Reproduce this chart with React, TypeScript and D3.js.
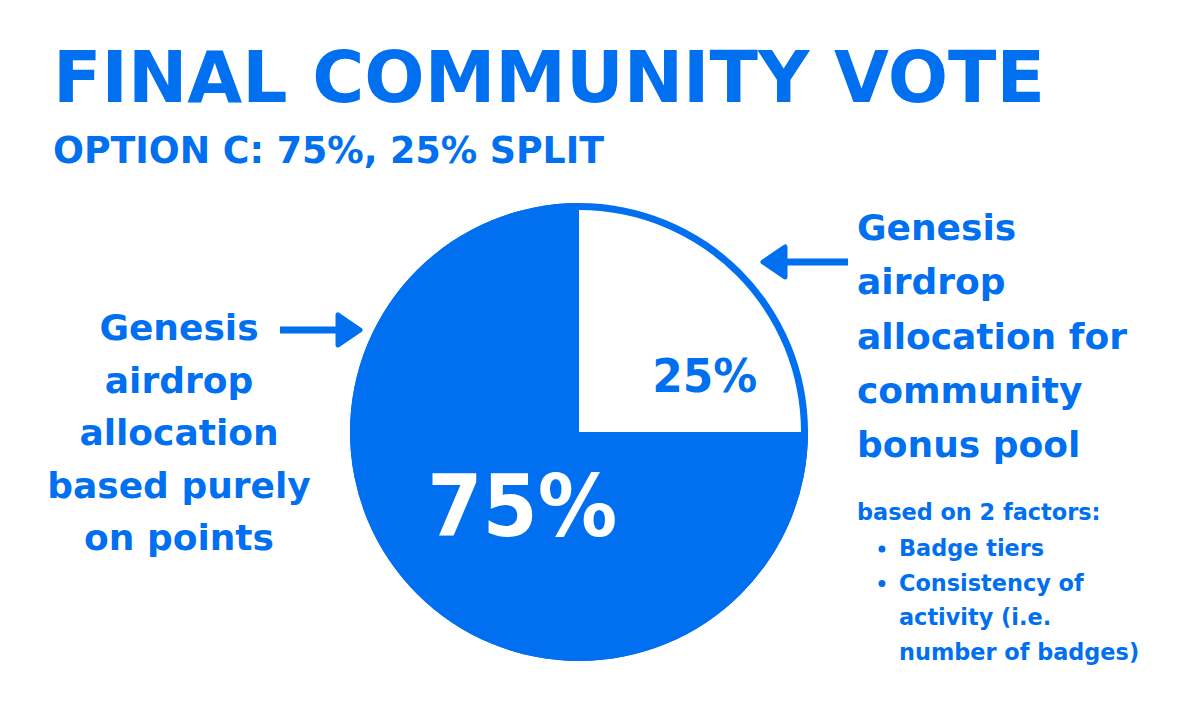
import React from "react";
import * as d3 from "d3";

const sliceLabels = ["25%", "75%"];
const sliceValues = [25, 75];
const sliceFills = ["#FFFFFF", "#0070F0"];
const sliceTextFills = ["#0070F0", "#FFFFFF"];

const titleText = "FINAL COMMUNITY VOTE";
const subtitleText = "OPTION C: 75%, 25% SPLIT";
const leftLines = ["Genesis", "airdrop", "allocation", "based purely", "on points"];
const rightLines = ["Genesis", "airdrop", "allocation for", "community", "bonus pool"];
const factorHeader = "based on 2 factors:";
const factorBullets = [["Badge tiers"], ["Consistency of", "activity (i.e.", "number of badges)"]];

const BLUE = "#0070F0";
const FONT = "'DejaVu Sans', sans-serif";

function Arrow({ x1, x2, y }: { x1: number; x2: number; y: number }) {
  const dir = Math.sign(x2 - x1);
  const headLen = 22;
  const headHalf = 15;
  const base = x2 - dir * headLen;
  const head = d3.path();
  head.moveTo(x2, y);
  head.lineTo(base, y - headHalf);
  head.lineTo(base, y + headHalf);
  head.closePath();
  return (
    <g>
      <line x1={x1} y1={y} x2={base + dir * 2} y2={y} stroke={BLUE} strokeWidth={7} />
      <path d={head.toString()} fill={BLUE} stroke={BLUE} strokeWidth={5} strokeLinejoin="round" />
    </g>
  );
}

export default function App() {
  const W = 1200, H = 720;
  const cx = 579, cy = 432;
  const R = 229;
  const ring = 7;
  const pie = d3.pie<number>().sort(null).value((d) => d)(sliceValues);
  const arcFull = d3.arc<d3.PieArcDatum<number>>().innerRadius(0).outerRadius(R);
  const arcInner = d3.arc<d3.PieArcDatum<number>>().innerRadius(0).outerRadius(R - ring);
  const labelArc = d3.arc<d3.PieArcDatum<number>>().innerRadius(100).outerRadius(100);
  const labelSizes = [47, 86];
  const labelWidths = [105, 190];
  const labelShift = [[55, 31], [14, 33]];

  return (
    <svg width={W} height={H} viewBox={`0 0 ${W} ${H}`} style={{ position: "absolute", left: 0, top: 0, background: "#fff" }}>
      <rect width={W} height={H} fill="#fff" />
      <text x={53} y={102} fontFamily={FONT} fontWeight="bold" fontSize={71} fill={BLUE} textLength={992} lengthAdjust="spacingAndGlyphs">{titleText}</text>
      <text x={53} y={163} fontFamily={FONT} fontWeight="bold" fontSize={37} fill={BLUE} textLength={551} lengthAdjust="spacingAndGlyphs">{subtitleText}</text>

      <g transform={`translate(${cx},${cy})`}>
        <circle r={R} fill={BLUE} />
        {pie.map((p, i) => (
          <path key={i} d={(i === 0 ? arcInner(p) : arcFull(p)) || ""} fill={sliceFills[i]} />
        ))}
        {pie.map((p, i) => {
          const [lx, ly] = labelArc.centroid(p);
          return (
            <text key={"l" + i} x={lx + labelShift[i][0]} y={ly + labelShift[i][1]} textAnchor="middle"
              fontFamily={FONT} fontWeight="bold" fontSize={labelSizes[i]} fill={sliceTextFills[i]}
              textLength={labelWidths[i]} lengthAdjust="spacingAndGlyphs">
              {sliceLabels[i]}
            </text>
          );
        })}
      </g>

      {leftLines.map((t, i) => (
        <text key={"L" + i} x={179} y={340 + i * 52.5} textAnchor="middle" fontFamily={FONT} fontWeight="bold" fontSize={36} fill={BLUE}>{t}</text>
      ))}
      <Arrow x1={280} x2={360} y={330} />

      {rightLines.map((t, i) => (
        <text key={"R" + i} x={857} y={240 + i * 54.3} fontFamily={FONT} fontWeight="bold" fontSize={36} fill={BLUE}>{t}</text>
      ))}
      <Arrow x1={848} x2={763} y={262} />

      <text x={857} y={520} fontFamily={FONT} fontWeight="bold" fontSize={22.4} fill={BLUE}>{factorHeader}</text>
      {(() => {
        let line = 0;
        return factorBullets.map((b, bi) => (
          <g key={"b" + bi}>
            {b.map((t, ti) => {
              const y = 556 + (line++) * 34.5;
              return (
                <g key={ti}>
                  {ti === 0 && <circle cx={882} cy={y - 7} r={3.5} fill={BLUE} />}
                  <text x={899} y={y} fontFamily={FONT} fontWeight="bold" fontSize={22.4} fill={BLUE}>{t}</text>
                </g>
              );
            })}
          </g>
        ));
      })()}
    </svg>
  );
}
